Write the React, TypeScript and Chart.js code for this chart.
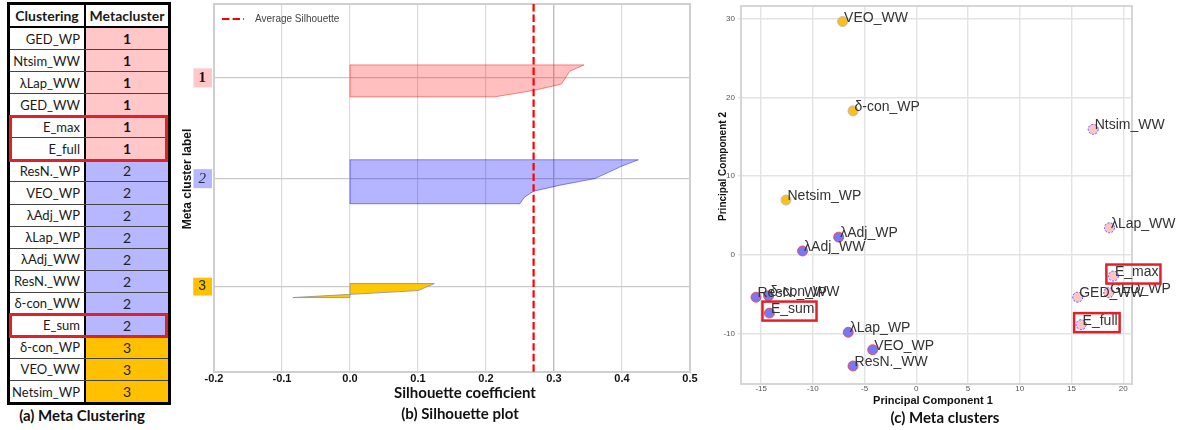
import React, { useEffect, useRef } from 'react';
import { Chart, registerables } from 'chart.js';

Chart.register(...registerables);

const SANS = "'Liberation Sans', Arial, sans-serif";
const HUMAN = "Lato, 'Liberation Sans', sans-serif";
const SERIF = "'Liberation Serif', 'DejaVu Serif', serif";

Chart.defaults.font.family = SANS;

// ---------------- (a) Meta clustering table ----------------
const clusteringNames = [
  'GED_WP', 'Ntsim_WW', 'λLap_WW', 'GED_WW', 'E_max', 'E_full',
  'ResN._WP', 'VEO_WP', 'λAdj_WP', 'λLap_WP', 'λAdj_WW', 'ResN._WW', 'δ-con_WW', 'E_sum',
  'δ-con_WP', 'VEO_WW', 'Netsim_WP',
];
const metaclusterOf = [1, 1, 1, 1, 1, 1, 2, 2, 2, 2, 2, 2, 2, 2, 3, 3, 3];
const highlightedGroups = [['E_max', 'E_full'], ['E_sum']];

// ---------------- (b) Silhouette plot ----------------
const silTickValues = [-0.2, -0.1, 0.0, 0.1, 0.2, 0.3, 0.4, 0.5];
const silClusterLabels = ['1', '2', '3'];
const silClusterLabelRow = [13.45, 31.8, 51.45];
const silBandTop = [11.09, 28.36, 50.9];
const silBandBottom = [16.9, 36.36, 53.45];
const silCluster1 = [0.344, 0.323, 0.317, 0.311, 0.27, 0.213];
const silCluster2 = [0.424, 0.4, 0.38, 0.36, 0.311, 0.27, 0.256, 0.25];
const silCluster3 = [0.124, 0.1, -0.084];
const avgSilhouette = 0.27;
const silRowMax = 67;

// ---------------- (c) Meta clusters (PCA) ----------------
const pcNames = clusteringNames;
const pc1 = [18.6, 17.1, 18.67, 15.6, 19.05, 15.93, -15.5, -4.22, -7.51, -6.58, -11.0, -6.12, -14.28, -14.2, -6.12, -7.13, -12.6];
const pc2 = [-4.82, 15.95, 3.43, -5.4, -2.71, -8.89, -5.4, -12.08, 2.24, -9.86, 0.48, -14.15, -5.23, -7.42, 18.3, 29.66, 6.96];
const pcXTicks = [-15, -10, -5, 0, 5, 10, 15, 20];
const pcYTicks = [-10, 0, 10, 20, 30];

// ---------------- styles ----------------
const tableColors = ['#ffc7c7', '#b7b7ff', '#ffc000'];
const silFill = ['rgba(255,0,0,0.25)', 'rgba(0,0,255,0.29)', '#ffc800'];
const silEdge = ['rgba(255,0,0,0.45)', 'rgba(0,0,255,0.45)', 'rgba(150,150,150,0.9)'];
const pcFill = ['#fcc3c9', '#7878f5', '#fbbf1c'];
const pcEdge = ['rgba(70,70,255,0.9)', 'rgba(255,60,60,0.85)', '#bdbdbd'];
const highlightRed = '#e3202a';

function silPolygon(values: number[], top: number, bottom: number) {
  const n = values.length;
  const step = n > 1 ? (bottom - top) / (n - 1) : 0;
  const pts: { x: number; y: number }[] = [{ x: 0, y: top }];
  values.forEach((v, i) => pts.push({ x: v, y: top + i * step }));
  pts.push({ x: 0, y: bottom });
  pts.push({ x: 0, y: top });
  return pts;
}

function fixSize(prop: 'width' | 'height', size: number) {
  return (s: any) => {
    s[prop] = size;
    s.paddingTop = 0;
    s.paddingBottom = 0;
    s.paddingLeft = 0;
    s.paddingRight = 0;
  };
}

const framePlugin = {
  id: 'frame',
  beforeDatasetsDraw(chart: any, _a: any, opts: any) {
    const { ctx, chartArea: a } = chart;
    ctx.save();
    ctx.strokeStyle = opts.color || '#ccc';
    ctx.lineWidth = opts.width || 1;
    ctx.strokeRect(a.left, a.top, a.right - a.left, a.bottom - a.top);
    ctx.restore();
  },
};

const axisTitlePlugin = {
  id: 'axisTitles',
  afterDraw(chart: any, _a: any, opts: any) {
    const { ctx, chartArea: a } = chart;
    (opts.items || []).forEach((it: any) => {
      ctx.save();
      ctx.font = it.font;
      ctx.fillStyle = it.color || '#111';
      ctx.textAlign = 'center';
      ctx.textBaseline = 'middle';
      let cx: number, cy: number;
      if (it.axis === 'x') {
        cx = (a.left + a.right) / 2 + it.dx;
        cy = a.bottom + it.dy;
      } else {
        cx = a.left + it.dx;
        cy = (a.top + a.bottom) / 2 + it.dy;
      }
      ctx.translate(cx, cy);
      if (it.axis === 'y') ctx.rotate(-Math.PI / 2);
      ctx.fillText(it.text, 0, 0);
      ctx.restore();
    });
  },
};

// in-plot legend drawn from the dataset's own label and line style
const insideLegendPlugin = {
  id: 'insideLegend',
  afterDraw(chart: any, _a: any, opts: any) {
    const { ctx, chartArea: a } = chart;
    const ds = chart.data.datasets[opts.datasetIndex];
    const y = a.top + opts.dy;
    const x0 = a.left + opts.dx;
    ctx.save();
    ctx.strokeStyle = ds.borderColor;
    ctx.lineWidth = ds.borderWidth;
    ctx.setLineDash(ds.borderDash || []);
    ctx.beginPath();
    ctx.moveTo(x0, y);
    ctx.lineTo(x0 + opts.lineLength, y);
    ctx.stroke();
    ctx.setLineDash([]);
    ctx.font = opts.font;
    ctx.fillStyle = opts.color;
    ctx.textAlign = 'left';
    ctx.textBaseline = 'middle';
    ctx.fillText(ds.label, x0 + opts.lineLength + opts.gap, y);
    ctx.restore();
  },
};

const dashedPointsPlugin = {
  id: 'dashedPoints',
  beforeDatasetDraw(chart: any, args: any) {
    const ds = chart.data.datasets[args.index];
    chart.ctx.save();
    if (ds.pointBorderDashPattern) chart.ctx.setLineDash(ds.pointBorderDashPattern);
  },
  afterDatasetDraw(chart: any) {
    chart.ctx.restore();
  },
};

const pointLabelPlugin = {
  id: 'pointLabels',
  afterDatasetsDraw(chart: any, _a: any, opts: any) {
    const ctx = chart.ctx;
    ctx.save();
    ctx.font = opts.font;
    ctx.textAlign = 'left';
    ctx.textBaseline = 'alphabetic';
    chart.data.datasets.forEach((ds: any, di: number) => {
      const meta = chart.getDatasetMeta(di);
      meta.data.forEach((pt: any, j: number) => {
        const name = ds.data[j].name;
        const tx = pt.x + opts.dx;
        const ty = pt.y + opts.dy;
        ctx.fillStyle = opts.color;
        ctx.fillText(name, tx, ty);
        if (opts.highlight.includes(name)) {
          const w = ctx.measureText(name).width;
          ctx.strokeStyle = opts.boxColor;
          ctx.lineWidth = 2.5;
          const left = pt.x - 7;
          ctx.strokeRect(left, pt.y - 11.5, tx + w + 2 - left, 19);
        }
      });
    });
    ctx.restore();
  },
};

function silConfig(): any {
  const clusters = [silCluster1, silCluster2, silCluster3];
  return {
    type: 'scatter',
    data: {
      datasets: [
        {
          label: 'Average Silhouette',
          data: [{ x: avgSilhouette, y: 0 }, { x: avgSilhouette, y: silRowMax }],
          showLine: true,
          borderColor: '#ff0000',
          borderWidth: 2.2,
          borderDash: [7.4, 3.2],
          pointRadius: 0,
          fill: false,
        },
        ...clusters.map((vals, i) => ({
          label: `Meta cluster ${i + 1}`,
          data: silPolygon(vals, silBandTop[i], silBandBottom[i]),
          showLine: true,
          fill: 'shape',
          backgroundColor: silFill[i],
          borderColor: silEdge[i],
          borderWidth: 1,
          pointRadius: 0,
        })),
      ],
    },
    options: {
      responsive: false,
      animation: false,
      events: [],
      layout: { padding: { top: 4, right: 10, bottom: 0, left: 0 } },
      scales: {
        x: {
          type: 'linear',
          min: -0.2,
          max: 0.5,
          afterBuildTicks: (s: any) => { s.ticks = silTickValues.map((v) => ({ value: v })); },
          afterFit: fixSize('height', 33),
          ticks: {
            callback: (v: any) => Number(v).toFixed(1),
            font: { size: 11, weight: 'bold', family: SANS },
            color: '#111',
            padding: 0,
            maxRotation: 0,
            autoSkip: false,
          },
          grid: {
            color: (c: any) => (c.tick && Math.abs(c.tick.value - 0.3) < 1e-9 ? '#bcbcbc' : '#dadada'),
            lineWidth: (c: any) => (c.tick && Math.abs(c.tick.value - 0.3) < 1e-9 ? 1.4 : 1.2),
            drawTicks: false,
          },
          border: { display: false },
        },
        y: {
          type: 'linear',
          min: 0,
          max: silRowMax,
          reverse: true,
          afterBuildTicks: (s: any) => { s.ticks = silClusterLabelRow.map((v) => ({ value: v })); },
          afterFit: fixSize('width', 39),
          ticks: {
            callback: (_v: any, i: number) => silClusterLabels[i],
            autoSkip: false,
            padding: 8,
            showLabelBackdrop: true,
            backdropColor: (c: any) => tableColors[c.index],
            backdropPadding: { left: 5, right: 6, top: 0.5, bottom: 0.5 },
            font: (c: any) => [
              { family: SERIF, size: 15, weight: 'bold' },
              { family: SERIF, size: 15, style: 'italic' },
              { family: SANS, size: 14 },
            ][c.index] || { size: 14 },
            color: (c: any) => ['#2b0b0b', '#2a2a44', '#10303a'][c.index] || '#222',
          },
          grid: { color: '#c9c9c9', lineWidth: 1.2, drawTicks: false },
          border: { display: false },
        },
      },
      plugins: {
        tooltip: { enabled: false },
        legend: { display: false },
        insideLegend: { datasetIndex: 0, dx: 8, dy: 15, lineLength: 22, gap: 11, font: `10px ${SANS}`, color: '#444' },
        frame: { color: '#cfcfcf', width: 2 },
        axisTitles: {
          items: [
            { axis: 'x', text: 'Silhouette coefficient', dx: 13, dy: 21, font: `bold 15px ${HUMAN}`, color: '#111' },
            { axis: 'y', text: 'Meta cluster label', dx: -26, dy: -9, font: `bold 12px ${SANS}`, color: '#111' },
          ],
        },
      },
    },
    plugins: [framePlugin, insideLegendPlugin, axisTitlePlugin],
  };
}

function pcaConfig(): any {
  return {
    type: 'scatter',
    data: {
      datasets: [1, 2, 3].map((c) => ({
        label: `Meta cluster ${c}`,
        data: pcNames
          .map((n, i) => ({ x: pc1[i], y: pc2[i], name: n, m: metaclusterOf[i] }))
          .filter((p) => p.m === c),
        backgroundColor: pcFill[c - 1],
        borderColor: pcEdge[c - 1],
        borderWidth: 1,
        pointRadius: 5,
        pointBorderDashPattern: c === 1 ? [2, 1.5] : null,
      })),
    },
    options: {
      responsive: false,
      animation: false,
      events: [],
      layout: { padding: { top: 3, right: 49, bottom: 0, left: 0 } },
      scales: {
        x: {
          type: 'linear',
          min: -16.95,
          max: 20.85,
          afterBuildTicks: (s: any) => { s.ticks = pcXTicks.map((v) => ({ value: v })); },
          afterFit: fixSize('height', 26),
          ticks: { font: { size: 8 }, color: '#555', padding: 0, maxRotation: 0, autoSkip: false },
          grid: { color: '#e3e3e3', lineWidth: 1.4, drawTicks: false },
          border: { display: false },
        },
        y: {
          type: 'linear',
          min: -16.44,
          max: 31.64,
          afterBuildTicks: (s: any) => { s.ticks = pcYTicks.map((v) => ({ value: v })); },
          afterFit: fixSize('width', 41),
          ticks: { font: { size: 8 }, color: '#555', padding: 3, autoSkip: false },
          grid: { color: '#e3e3e3', lineWidth: 1.4, drawTicks: true, tickLength: 3 },
          border: { display: false },
        },
      },
      plugins: {
        tooltip: { enabled: false },
        legend: { display: false },
        frame: { color: '#d6d6d6', width: 2 },
        pointLabels: {
          font: `14px ${SANS}`,
          color: '#333',
          dx: 1.5,
          dy: 0,
          highlight: highlightedGroups.flat(),
          boxColor: highlightRed,
        },
        axisTitles: {
          items: [
            { axis: 'x', text: 'Principal Component 1', dx: -3.5, dy: 17, font: `bold 11px ${SANS}`, color: '#111' },
            { axis: 'y', text: 'Principal Component 2', dx: -18, dy: -28.5, font: `bold 10px ${SANS}`, color: '#111' },
          ],
        },
      },
    },
    plugins: [framePlugin, dashedPointsPlugin, pointLabelPlugin, axisTitlePlugin],
  };
}

const ROW_H = 22;
const HEADER_BOTTOM = 28;

function MetaTable() {
  return (
    <>
      <div
        style={{
          position: 'absolute', left: 7, top: 2, width: 164, height: 403,
          border: '3px solid #000', boxSizing: 'border-box', display: 'flex', flexDirection: 'column',
          fontFamily: HUMAN, color: '#1a1a1a', background: '#fff',
        }}
      >
        <div style={{ height: 23, flex: 'none', display: 'flex', borderBottom: '2px solid #000', boxSizing: 'border-box' }}>
          <div style={{ width: 76, flex: 'none', borderRight: '2px solid #000', boxSizing: 'border-box', display: 'flex', alignItems: 'center', justifyContent: 'center', fontWeight: 700, fontSize: 14 }}>Clustering</div>
          <div style={{ flex: 1, display: 'flex', alignItems: 'center', justifyContent: 'center', fontWeight: 700, fontSize: 14 }}>Metacluster</div>
        </div>
        <div style={{ flex: 1, display: 'flex', flexDirection: 'column' }}>
          {clusteringNames.map((name, i) => (
            <div key={name} style={{ flex: 1, display: 'flex', borderTop: i === 0 ? 'none' : '1px solid #444', boxSizing: 'border-box', minHeight: 0 }}>
              <div style={{ width: 76, flex: 'none', borderRight: '2px solid #000', boxSizing: 'border-box', display: 'flex', alignItems: 'center', justifyContent: 'flex-end', paddingRight: 4, fontSize: 13, background: '#fff' }}>{name}</div>
              <div style={{ flex: 1, background: tableColors[metaclusterOf[i] - 1], display: 'flex', alignItems: 'center', justifyContent: 'center', fontSize: 14, fontWeight: metaclusterOf[i] === 1 ? 700 : 400, color: metaclusterOf[i] === 1 ? '#2b0b0b' : '#222' }}>{metaclusterOf[i]}</div>
            </div>
          ))}
        </div>
      </div>
      {highlightedGroups.map((g) => {
        const idx = clusteringNames.indexOf(g[0]);
        return (
          <div
            key={g.join('-')}
            style={{
              position: 'absolute', left: 9, width: 159,
              top: HEADER_BOTTOM + idx * ROW_H - 1.5, height: g.length * ROW_H + 3,
              border: `3px solid ${highlightRed}`, boxSizing: 'border-box',
            }}
          />
        );
      })}
    </>
  );
}

function Caption({ text, cx, cy }: { text: string; cx: number; cy: number }) {
  return (
    <div style={{ position: 'absolute', left: cx - 150, width: 300, top: cy - 10, height: 20, lineHeight: '20px', textAlign: 'center', fontFamily: HUMAN, fontWeight: 700, fontSize: 15, color: '#111' }}>
      {text}
    </div>
  );
}

export default function App() {
  const silRef = useRef<HTMLCanvasElement>(null);
  const pcaRef = useRef<HTMLCanvasElement>(null);

  useEffect(() => {
    const c1 = new Chart(silRef.current as HTMLCanvasElement, silConfig());
    const c2 = new Chart(pcaRef.current as HTMLCanvasElement, pcaConfig());
    return () => {
      c1.destroy();
      c2.destroy();
    };
  }, []);

  return (
    <div style={{ position: 'fixed', left: 0, top: 0, width: 1181, height: 430, background: '#fff', overflow: 'hidden' }}>
      <MetaTable />
      <canvas ref={silRef} width={525} height={405} style={{ position: 'absolute', left: 175, top: 0, width: 525, height: 405 }} />
      <canvas ref={pcaRef} width={481} height={410} style={{ position: 'absolute', left: 700, top: 0, width: 481, height: 410 }} />
      <Caption text="(a) Meta Clustering" cx={82} cy={415} />
      <Caption text="(b) Silhouette plot" cx={460} cy={413} />
      <Caption text="(c) Meta clusters" cx={945} cy={417} />
    </div>
  );
}
